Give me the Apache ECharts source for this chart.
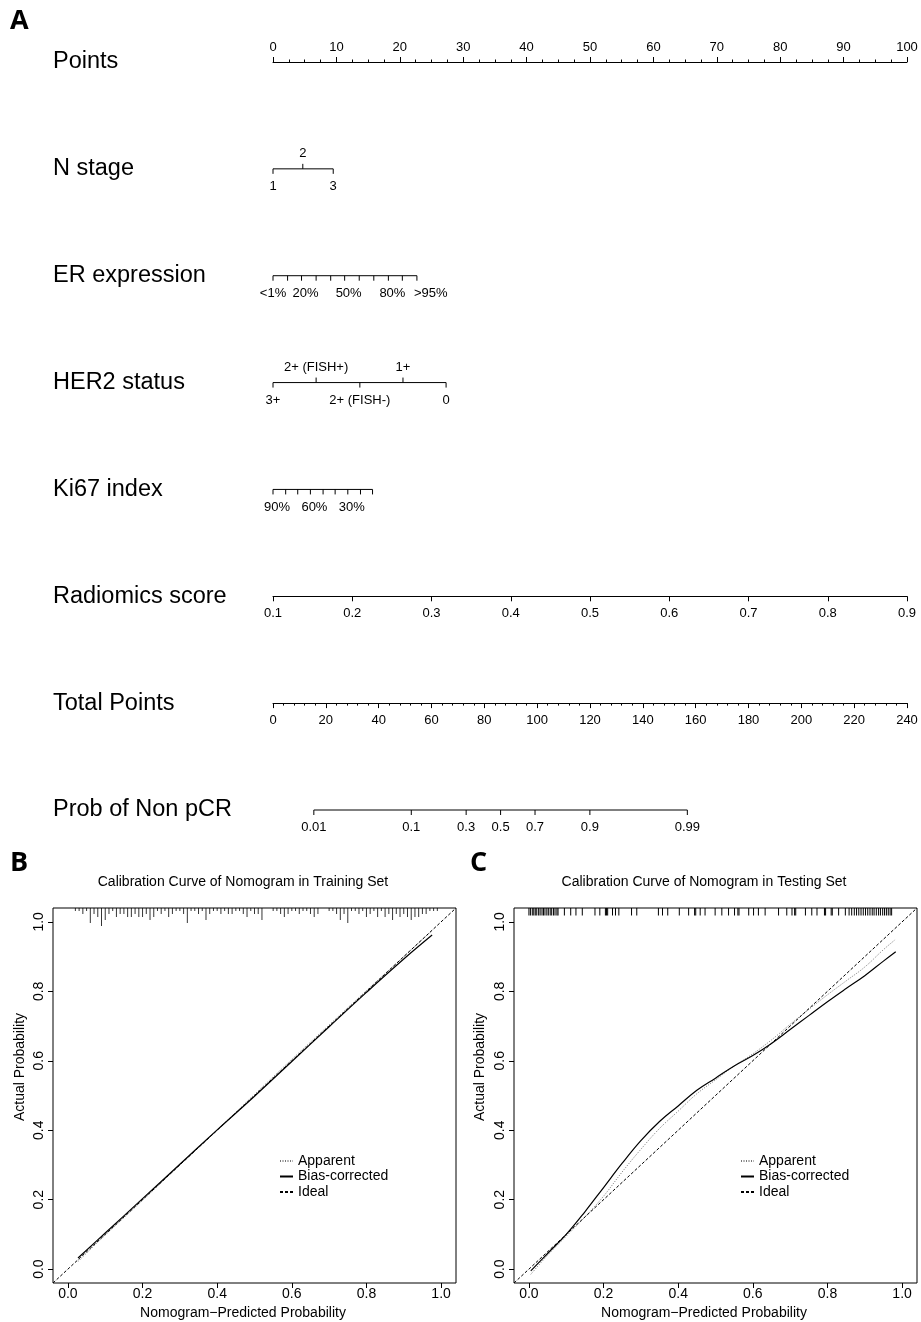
<!DOCTYPE html>
<html>
<head>
<meta charset="utf-8">
<script src="https://cdn.jsdelivr.net/npm/echarts@6/dist/echarts.min.js"></script>
<style>
html, body { margin: 0; padding: 0; background: #fff; }
#main { width: 921px; height: 1322px; }
</style>
</head>
<body>
<div id="main"></div>
<script>
var FONT = '"Liberation Sans", Arial, sans-serif';

// ---- nomogram (panel A) ----
var rowNames = ['Points', 'N stage', 'ER expression', 'HER2 status', 'Ki67 index',
  'Radiomics score', 'Total Points', 'Prob of Non pCR'];

var nStageLabels = ['1', '2', '3'];
var nStagePoints = [0, 4.7, 9.5];
var nStageSides = [1, -1, 1];

var erLabels = ['<1%', '', '20%', '', '', '50%', '', '', '80%', '', '>95%'];
var erPoints = [0, 2.3, 4.5, 6.8, 9.1, 11.3, 13.6, 15.9, 18.2, 20.4, 22.7];

var her2Labels = ['3+', '2+ (FISH+)', '2+ (FISH-)', '1+', '0'];
var her2Points = [0, 6.8, 13.7, 20.5, 27.3];
var her2Sides = [1, -1, 1, -1, 1];

var ki67Labels = ['90%', '', '', '60%', '', '', '30%', '', ''];
var ki67Points = [0, 2.0, 3.9, 5.9, 7.9, 9.8, 11.8, 13.8, 15.7];

var radiomicsRange = [0.1, 0.9];
var totalPointsRange = [0, 240];

var probTicks = [0.01, 0.1, 0.3, 0.5, 0.7, 0.9, 0.99];
// linear predictor = lpIntercept + lpPerTotal * total points
var lpIntercept = -5.60;
var lpPerTotal = 0.0650;

// ---- calibration (panels B, C) ----
var trainPred      = [0.027, 0.1, 0.2, 0.3, 0.4, 0.5, 0.6, 0.7, 0.8, 0.9, 0.976];
var trainApparent  = [0.022, 0.098, 0.198, 0.3, 0.401, 0.503, 0.604, 0.703, 0.802, 0.9, 0.975];
var trainBias      = [0.032, 0.104, 0.203, 0.302, 0.401, 0.498, 0.598, 0.698, 0.797, 0.893, 0.962];

var testPred      = [0.005, 0.05, 0.1, 0.15, 0.2, 0.25, 0.3, 0.35, 0.4, 0.45, 0.5, 0.55, 0.6, 0.65, 0.7, 0.75, 0.8, 0.85, 0.9, 0.95, 0.983];
var testApparent  = [-0.015, 0.04, 0.095, 0.15, 0.21, 0.28, 0.345, 0.405, 0.455, 0.505, 0.545, 0.585, 0.62, 0.66, 0.705, 0.748, 0.79, 0.83, 0.87, 0.92, 0.95];
var testBias      = [-0.005, 0.045, 0.1, 0.165, 0.235, 0.305, 0.37, 0.425, 0.47, 0.515, 0.55, 0.585, 0.615, 0.65, 0.69, 0.73, 0.77, 0.808, 0.845, 0.887, 0.914];

// rug of predicted probabilities (training: binned counts)
var trainRugPred = [0.02, 0.03, 0.04, 0.05, 0.06, 0.07, 0.08, 0.09, 0.10, 0.11, 0.12, 0.13, 0.14, 0.15, 0.16, 0.17, 0.18, 0.19, 0.20,
  0.21, 0.22, 0.23, 0.24, 0.25, 0.26, 0.27, 0.28, 0.29, 0.30, 0.31, 0.32, 0.33, 0.34, 0.35, 0.36, 0.37, 0.38, 0.39, 0.40,
  0.41, 0.42, 0.43, 0.44, 0.45, 0.46, 0.47, 0.48, 0.49, 0.50, 0.51, 0.52, 0.55, 0.56, 0.57, 0.58, 0.59, 0.60,
  0.61, 0.62, 0.63, 0.64, 0.65, 0.66, 0.67, 0.70, 0.71, 0.72, 0.73, 0.74, 0.75, 0.76, 0.77, 0.78, 0.79, 0.80,
  0.81, 0.82, 0.83, 0.84, 0.85, 0.86, 0.87, 0.88, 0.89, 0.90, 0.91, 0.92, 0.93, 0.94, 0.95, 0.96, 0.97, 0.98, 0.99];
var trainRugCount = [1, 1, 2, 1, 5, 2, 3, 6, 4, 2, 1, 3, 2, 2, 3, 3, 2, 3, 3,
  2, 4, 3, 1, 2, 1, 3, 2, 1, 1, 2, 5, 1, 1, 2, 1, 4, 2, 1, 1,
  2, 1, 2, 2, 1, 1, 2, 3, 1, 2, 2, 4, 1, 1, 2, 3, 2, 1,
  1, 2, 1, 1, 2, 3, 2, 1, 1, 2, 4, 2, 5, 1, 1, 2, 1, 3,
  2, 1, 3, 1, 3, 2, 4, 2, 3, 2, 3, 4, 3, 3, 2, 2, 1, 1, 1];

// testing set: individual observations
var testRugPred = [0.0, 0.004, 0.009, 0.013, 0.017, 0.021, 0.026, 0.03, 0.035, 0.039, 0.043, 0.048, 0.052, 0.057, 0.061, 0.066, 0.07, 0.075, 0.078,
  0.095, 0.112, 0.126, 0.143, 0.177, 0.19, 0.205, 0.208, 0.211, 0.224, 0.232, 0.241, 0.275, 0.289,
  0.347, 0.358, 0.372, 0.403, 0.428, 0.444, 0.447, 0.459, 0.472, 0.499, 0.517, 0.535, 0.551, 0.56, 0.563,
  0.589, 0.602, 0.615, 0.633, 0.669, 0.691, 0.705, 0.712, 0.715, 0.741, 0.758, 0.772, 0.792, 0.795, 0.81, 0.813, 0.83, 0.848,
  0.858, 0.865, 0.872, 0.878, 0.884, 0.89, 0.896, 0.902, 0.908, 0.914, 0.92, 0.925, 0.931, 0.937, 0.942, 0.948, 0.953, 0.958, 0.963, 0.968, 0.972];

var calMin = -0.04, calMax = 1.04;
var calTicks = [0, 0.2, 0.4, 0.6, 0.8, 1.0];
var legendNames = ['Apparent', 'Bias-corrected', 'Ideal'];

// label nudges (px) for the percentage rows, as R draws them
var rowLabelDx = { 2: 4, 4: 4 };

function probToPoints(p) {
  var tp = (Math.log(p / (1 - p)) - lpIntercept) / lpPerTotal;
  return tp * 100 / totalPointsRange[1];
}

// build tick + axis-line items for the custom nomogram rows
var rowTicks = [];
var rowLines = [];
function addRow(row, points, labels, sides) {
  for (var i = 0; i < points.length; i++) {
    rowTicks.push({ row: row, p: points[i], label: labels[i], side: sides ? sides[i] : 1, last: i === points.length - 1 });
  }
  rowLines.push({ row: row, p0: Math.min.apply(null, points), p1: Math.max.apply(null, points) });
}
addRow(1, nStagePoints, nStageLabels, nStageSides);
addRow(2, erPoints, erLabels);
addRow(3, her2Points, her2Labels, her2Sides);
addRow(4, ki67Points, ki67Labels);
addRow(7, probTicks.map(probToPoints), probTicks.map(String));

function zip(xs, ys) {
  return xs.map(function (x, i) { return [x, ys[i]]; });
}

var black = '#000';
var tickLabelStyle = { color: black, fontSize: 13, fontFamily: FONT };

function nomoAxis(gridIndex, min, max, interval, position, minorSplit, margin) {
  return {
    type: 'value', gridIndex: gridIndex, position: position,
    min: min, max: max, interval: interval,
    axisLine: { show: true, onZero: false, lineStyle: { color: black, width: 1 } },
    axisTick: { show: true, length: 5, lineStyle: { color: black } },
    minorTick: { show: minorSplit > 0, splitNumber: minorSplit || 5, length: 2.5, lineStyle: { color: black } },
    splitLine: { show: false },
    minorSplitLine: { show: false },
    axisLabel: Object.assign({ margin: margin }, tickLabelStyle)
  };
}

function calAxis(gridIndex, isY) {
  return {
    type: 'value', gridIndex: gridIndex,
    min: calMin, max: calMax,
    axisLine: { show: false, onZero: false },
    axisTick: { show: true, length: 5, customValues: calTicks, lineStyle: { color: black } },
    splitLine: { show: false },
    axisLabel: {
      customValues: calTicks, color: black, fontSize: 14, fontFamily: FONT,
      margin: isY ? 7 : 4, rotate: isY ? 90 : 0,
      formatter: function (v) { return v.toFixed(1); }
    }
  };
}

function calSeries(gridIndex, pred, apparent, bias, rugPred, rugCount, rugPx) {
  return [
    {
      type: 'custom', xAxisIndex: gridIndex, yAxisIndex: gridIndex, silent: true,
      data: rugPred.map(function (p, i) { return [p, rugCount ? rugCount[i] : 1]; }),
      renderItem: function (params, api) {
        var top = api.coord([api.value(0), calMax]);
        return {
          type: 'line',
          shape: { x1: top[0], y1: top[1], x2: top[0], y2: top[1] + api.value(1) * rugPx },
          style: { stroke: black, lineWidth: rugCount ? 0.8 : 1 }
        };
      }
    },
    {
      name: 'Apparent', type: 'line', xAxisIndex: gridIndex, yAxisIndex: gridIndex,
      data: zip(pred, apparent), symbol: 'none', smooth: 0.4,
      lineStyle: { color: '#777', width: 1, type: [1, 1.5] }
    },
    {
      name: 'Bias-corrected', type: 'line', xAxisIndex: gridIndex, yAxisIndex: gridIndex,
      data: zip(pred, bias), symbol: 'none', smooth: 0.4,
      lineStyle: { color: black, width: 1.2, type: 'solid' }
    },
    {
      name: 'Ideal', type: 'line', xAxisIndex: gridIndex, yAxisIndex: gridIndex,
      data: [[calMin, calMin], [calMax, calMax]], symbol: 'none',
      lineStyle: { color: black, width: 1, type: [3, 2] }
    }
  ];
}

function calLegend(left) {
  return {
    data: legendNames, orient: 'vertical', left: left, top: 1154, padding: 0,
    itemWidth: 13, itemHeight: 8, itemGap: 1.5, selectedMode: false,
    itemStyle: { opacity: 0 },
    textStyle: { color: black, fontSize: 14, fontFamily: FONT }
  };
}

function txt(x, y, text, size, extra) {
  return {
    type: 'text', x: x, y: y,
    style: Object.assign({ text: text, fill: black, fontSize: size, fontFamily: FONT, align: 'center', verticalAlign: 'middle' }, extra || {})
  };
}

var letterStyle = { fontWeight: 'bold', fontFamily: '"Open Sans", sans-serif', align: 'left' };

var option = {
  animation: false,
  backgroundColor: '#fff',
  grid: [
    { left: 273, top: 62, width: 634, height: 748 },
    { left: 273, top: 595.3, width: 634, height: 1 },
    { left: 273, top: 702.1, width: 634, height: 1 },
    { left: 53, top: 908, width: 403, height: 375, show: true, borderColor: black, borderWidth: 1, backgroundColor: 'transparent' },
    { left: 514, top: 908, width: 403, height: 375, show: true, borderColor: black, borderWidth: 1, backgroundColor: 'transparent' }
  ],
  xAxis: [
    nomoAxis(0, 0, 100, 10, 'top', 4, 8.5),
    nomoAxis(1, radiomicsRange[0], radiomicsRange[1], 0.1, 'bottom', 0, 11),
    nomoAxis(2, totalPointsRange[0], totalPointsRange[1], 20, 'bottom', 5, 11),
    calAxis(3, false),
    calAxis(4, false)
  ],
  yAxis: [
    {
      type: 'category', gridIndex: 0, data: rowNames, inverse: true, boundaryGap: false,
      axisLine: { show: false }, axisTick: { show: false }, splitLine: { show: false },
      axisLabel: { interval: 0, align: 'left', margin: 220, color: black, fontSize: 23.5, fontFamily: FONT }
    },
    { type: 'value', gridIndex: 1, min: 0, max: 1, show: false },
    { type: 'value', gridIndex: 2, min: 0, max: 1, show: false },
    calAxis(3, true),
    calAxis(4, true)
  ],
  legend: [calLegend(279), calLegend(740)],
  graphic: [
    txt(10, 21, 'A', 27, letterStyle),
    txt(10, 863, 'B', 27, letterStyle),
    txt(470, 863, 'C', 27, letterStyle),
    txt(243, 882, 'Calibration Curve of Nomogram in Training Set', 14),
    txt(704, 882, 'Calibration Curve of Nomogram in Testing Set', 14),
    txt(243, 1313, 'Nomogram\u2212Predicted Probability', 14),
    txt(704, 1313, 'Nomogram\u2212Predicted Probability', 14),
    Object.assign(txt(20, 1067, 'Actual Probability', 14), { rotation: Math.PI / 2 }),
    Object.assign(txt(480, 1067, 'Actual Probability', 14), { rotation: Math.PI / 2 })
  ],
  series: [
    {
      type: 'custom', xAxisIndex: 0, yAxisIndex: 0, silent: true,
      data: rowLines.map(function (r) { return [r.p0, r.row, r.p1]; }),
      renderItem: function (params, api) {
        var a = api.coord([api.value(0), api.value(1)]);
        var b = api.coord([api.value(2), api.value(1)]);
        return { type: 'line', shape: { x1: a[0], y1: a[1], x2: b[0], y2: b[1] }, style: { stroke: black, lineWidth: 1 } };
      }
    },
    {
      type: 'custom', xAxisIndex: 0, yAxisIndex: 0, silent: true,
      data: rowTicks.map(function (t) { return [t.p, t.row]; }),
      renderItem: function (params, api) {
        var t = rowTicks[params.dataIndex];
        var c = api.coord([t.p, t.row]);
        var below = t.side > 0;
        var dx = rowLabelDx[t.row] || 0;
        var align = 'center';
        if (t.row === 2 && t.last) { align = 'left'; dx = -3; }
        if (t.row === 2 && t.p === 0) { dx = 0; }
        return {
          type: 'group',
          children: [
            { type: 'line', shape: { x1: c[0], y1: c[1], x2: c[0], y2: c[1] + t.side * 5 }, style: { stroke: black, lineWidth: 1 } },
            {
              type: 'text', x: c[0] + dx, y: below ? c[1] + 11 : c[1] - 9,
              style: { text: t.label, fill: black, fontSize: 13, fontFamily: FONT, align: align, verticalAlign: below ? 'top' : 'bottom' }
            }
          ]
        };
      }
    }
  ]
    .concat(calSeries(3, trainPred, trainApparent, trainBias, trainRugPred, trainRugCount, 3))
    .concat(calSeries(4, testPred, testApparent, testBias, testRugPred, null, 7.5))
};

var myChart = echarts.init(document.getElementById('main'));
myChart.setOption(option);
</script>
</body>
</html>
